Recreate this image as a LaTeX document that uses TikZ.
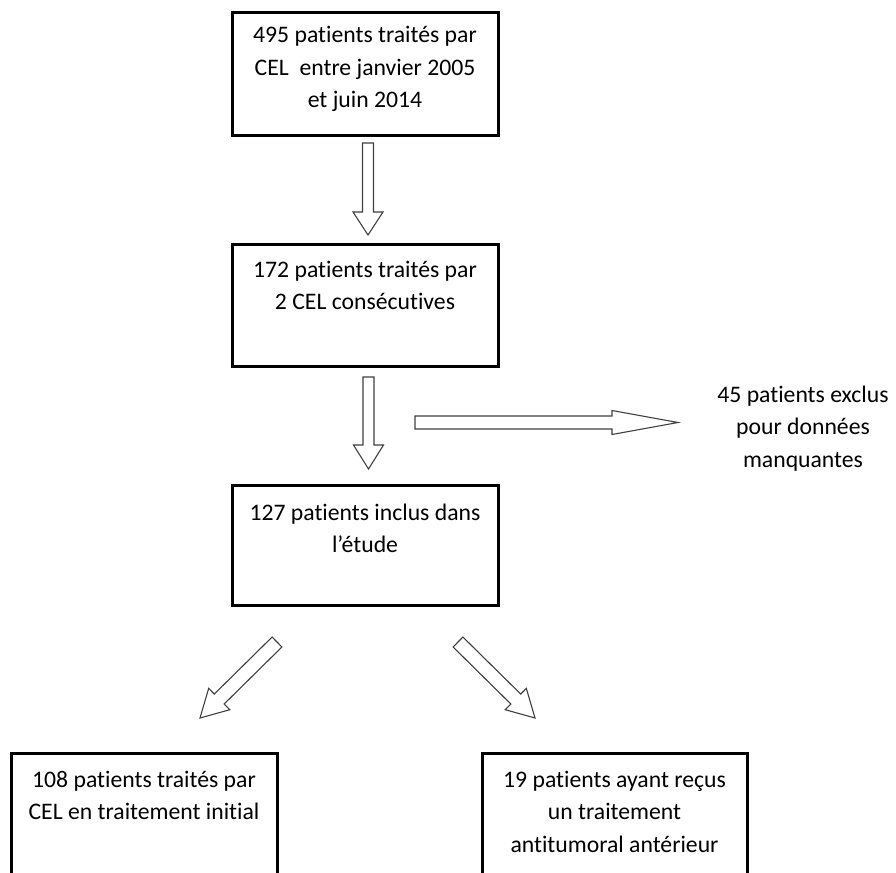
\documentclass[tikz,border=0pt]{standalone}
\usepackage{fontspec}
\setmainfont{Carlito}[Ligatures={NoCommon,NoContextual}]
\usetikzlibrary{calc}
\tikzset{
  box/.style={draw=black, line width=3pt, rectangle, minimum width=266pt, minimum height=122pt, inner sep=0pt},
  txt/.style={align=center, inner sep=0pt, font=\fontsize{23.7}{32.5}\selectfont, text=black},
  arrowline/.style={draw=black!75, line width=1.1pt, fill=white, line join=miter},
}
% #1 tail coordinate, #2 tip coordinate, #3 shaft half width, #4 head half width, #5 head length
\newcommand\blockarrow[5]{%
  \path ($(#2)!#5!(#1)$) coordinate (#1-hb);
  \draw[arrowline] ($(#1)!#3!90:(#2)$) -- ($(#1-hb)!#3!90:(#2)$) -- ($(#1-hb)!#4!90:(#2)$)
    -- (#2) -- ($(#1-hb)!#4!-90:(#2)$) -- ($(#1-hb)!#3!-90:(#2)$) -- ($(#1)!#3!-90:(#2)$) -- cycle;
}
\begin{document}
\begin{tikzpicture}[x=1pt, y=-1pt]
\clip (0,0) rectangle (896,872);
\fill[white] (0,0) rectangle (896,872);

% boxes
\node[box] (b1) at (365,74) {};
\node[box] (b2) at (365,305) {};
\node[box, minimum height=120pt] (b3) at (365,545) {};
\node[box, minimum width=266pt, minimum height=150pt] (b4) at (144,828) {};
\node[box, minimum width=265pt, minimum height=150pt] (b5) at (614.5,828) {};

% texts (anchored at the baseline of their last line)
\node[txt, anchor=base] (t1) at (365,108) {495 patients traités par\\CEL~ entre janvier 2005\\et juin 2014};
\node[txt, anchor=base] (t2) at (365,309.5) {172 patients traités par\\2 CEL consécutives};
\node[txt, anchor=base] (t3) at (365,552.5) {127 patients inclus dans\\l’étude};
\node[txt, anchor=base] (t4) at (144,819.5) {108 patients traités par\\CEL en traitement initial};
\node[txt, anchor=base] (t5) at (614.5,852) {19 patients ayant reçus\\un traitement\\antitumoral antérieur};
\node[txt, anchor=base] (t6) at (803,467) {45 patients exclus\\pour données\\manquantes};

% arrow end points
\coordinate (a1t) at (368,143);
\coordinate (a1p) at (368,235);
\coordinate (a2t) at (368.5,377);
\coordinate (a2p) at (368.5,469);
\coordinate (a3t) at (415,422.5);
\coordinate (a3p) at (678,422.5);
\coordinate (a4t) at (277,642);
\coordinate (a4p) at (200,718);
\coordinate (a5t) at (458,642);
\coordinate (a5p) at (535,718);

\blockarrow{a1t}{a1p}{5.5pt}{15pt}{23pt}
\blockarrow{a2t}{a2p}{5.5pt}{15pt}{24pt}
\blockarrow{a3t}{a3p}{6.5pt}{12pt}{66pt}
\blockarrow{a4t}{a4p}{7pt}{15pt}{27pt}
\blockarrow{a5t}{a5p}{7pt}{15pt}{27pt}
\end{tikzpicture}
\end{document}
